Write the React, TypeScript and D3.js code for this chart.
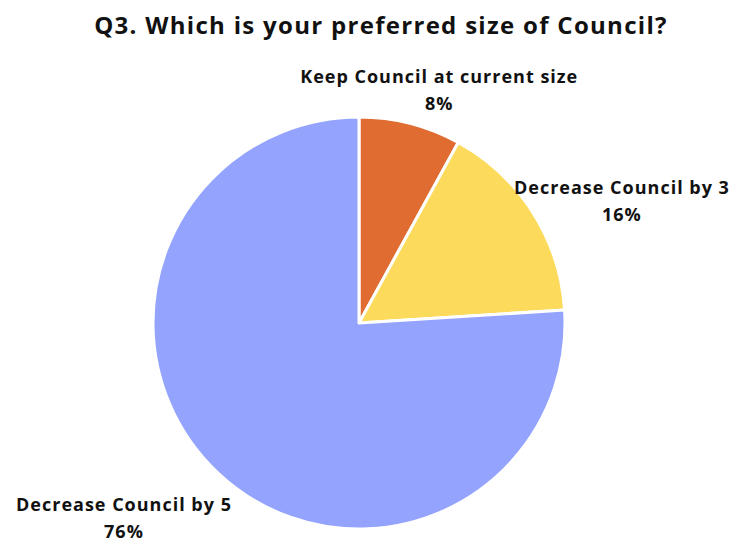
import React from "react";
import * as d3 from "d3";

const categories = ["Keep Council at current size", "Decrease Council by 3", "Decrease Council by 5"];
const values = [8, 16, 76];
const colors = ["#E06C31", "#FCDA5C", "#94A3FE"];
// label layout offsets relative to the arc edge point (layout only)
const labelOffsets = [
  [29, -40],
  [89, -19],
  [-94, 38],
];

const W = 736, H = 544;
const cx = 359, cy = 323, R = 206;
const FONT = "'Open Sans', sans-serif";

export default function App() {
  const pie = d3.pie<number>().sort(null).value((d) => d)(values);
  const arc = d3.arc<d3.PieArcDatum<number>>().innerRadius(0).outerRadius(R);
  const total = d3.sum(values);
  return (
    <svg width={W} height={H} style={{ position: "absolute", left: 0, top: 0, background: "#fff" }}>
      <text x={381} y={34} textAnchor="middle" fontFamily={FONT} fontWeight={700} fontSize={24} letterSpacing={1.3} fill="#111">
        Q3. Which is your preferred size of Council?
      </text>
      <g transform={`translate(${cx},${cy})`}>
        {pie.map((p, i) => (
          <path key={i} d={arc(p) || ""} fill={colors[i]} stroke="#fff" strokeWidth={3} strokeLinejoin="round" />
        ))}
      </g>
      {pie.map((p, i) => {
        const mid = (p.startAngle + p.endAngle) / 2;
        const px = cx + R * Math.sin(mid) + labelOffsets[i][0];
        const py = cy - R * Math.cos(mid) + labelOffsets[i][1];
        const pct = d3.format(".0%")(values[i] / total);
        return (
          <text key={i} x={px} y={py} textAnchor="middle" fontFamily={FONT} fontWeight={700} fontSize={18} letterSpacing={1} fill="#111">
            <tspan x={px} dy={0}>{categories[i]}</tspan>
            <tspan x={px} dy={27}>{pct}</tspan>
          </text>
        );
      })}
    </svg>
  );
}
